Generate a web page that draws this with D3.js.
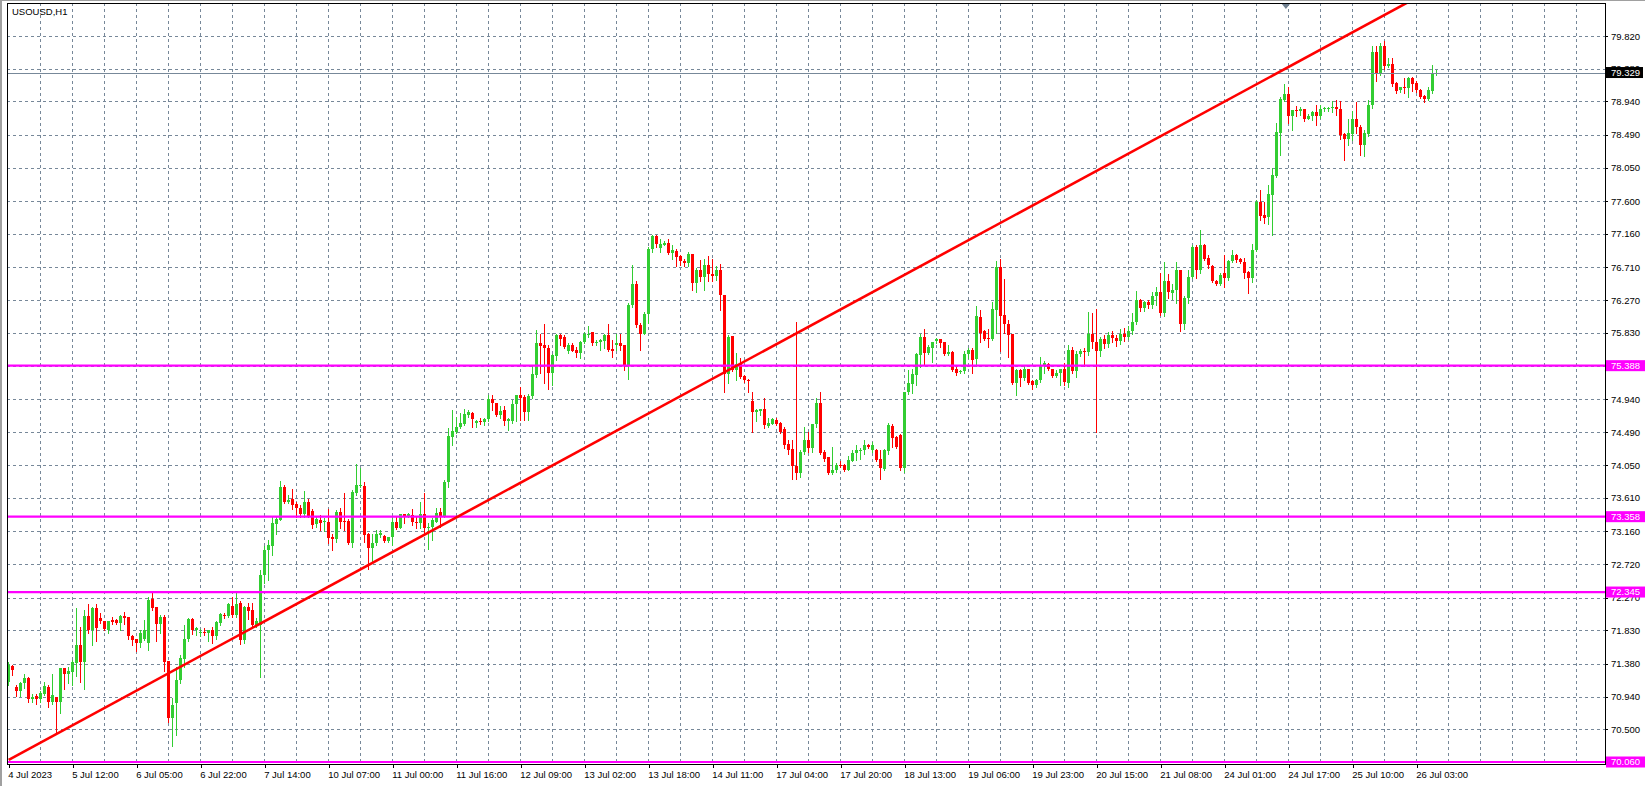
<!DOCTYPE html>
<html><head><meta charset="utf-8">
<script src="https://cdn.jsdelivr.net/npm/d3@7"></script>
<style>
html,body{margin:0;padding:0;background:#fff;}
svg{display:block;}
text{font-family:"Liberation Sans",Arial,sans-serif;font-size:9.5px;}
</style></head><body>
<svg id="chart" width="1645" height="786"></svg>
<script>
const symbolTitle = "USOUSD,H1";

const open = [
71.13,71.35,71.07,71.01,71.12,71.19,70.91,70.95,70.91,70.98,
71.07,70.86,70.93,70.86,71.32,71.24,71.27,71.39,71.63,71.41,
72.02,71.84,72.13,71.99,71.95,71.83,71.97,71.97,71.93,72.02,
72.01,71.76,71.72,71.66,71.72,71.66,72.25,72.14,71.91,72.01,
71.42,70.65,70.85,71.16,71.45,71.72,71.98,71.84,71.80,71.81,
71.79,71.83,71.75,71.93,72.03,72.02,72.16,72.04,72.20,71.70,
72.14,72.11,71.90,71.90,72.58,72.91,72.97,73.26,73.32,73.76,
73.56,73.60,73.53,73.48,73.39,73.56,73.44,73.26,73.31,73.29,
73.29,73.08,73.06,73.42,73.30,73.30,73.00,73.68,73.77,73.77,
73.13,72.94,73.00,73.11,73.10,73.03,73.08,73.28,73.20,73.39,
73.37,73.38,73.29,73.27,73.39,73.20,73.22,73.29,73.42,73.36,
73.82,74.43,74.50,74.56,74.61,74.73,74.75,74.62,74.64,74.63,
74.67,74.94,74.88,74.73,74.79,74.65,74.65,74.87,74.99,74.97,
74.77,74.98,75.26,75.69,75.66,75.63,75.29,75.52,75.80,75.78,
75.58,75.66,75.60,75.56,75.71,75.80,75.84,75.69,75.70,75.72,
75.80,75.61,75.66,75.69,75.66,75.39,76.21,76.48,75.93,75.82,
76.08,76.96,77.13,76.97,77.01,77.04,76.90,76.93,76.86,76.80,
76.77,76.89,76.50,76.68,76.58,76.74,76.62,76.60,76.68,76.34,
75.28,75.79,75.33,75.41,75.25,75.20,74.91,74.77,74.78,74.80,
74.58,74.61,74.66,74.62,74.53,74.34,74.27,74.04,73.94,74.23,
74.39,74.28,74.60,74.88,74.23,74.16,73.95,73.99,74.05,74.05,
73.99,74.11,74.21,74.24,74.25,74.32,74.25,74.25,74.14,74.00,
74.24,74.58,74.43,74.46,74.01,75.03,75.14,75.26,75.53,75.78,
75.56,75.62,75.72,75.74,75.70,75.55,75.57,75.35,75.30,75.31,
75.55,75.60,75.48,76.04,75.85,75.76,75.75,76.14,76.71,76.07,
75.95,75.82,75.15,75.33,75.22,75.34,75.18,75.13,75.19,75.38,
75.41,75.34,75.25,75.29,75.35,75.16,75.60,75.31,75.55,75.59,
75.57,75.82,75.70,75.58,75.74,75.68,75.80,75.76,75.72,75.82,
75.78,75.86,75.98,76.27,76.17,76.25,76.20,76.33,76.38,76.09,
76.52,76.37,76.40,76.67,75.95,76.30,76.58,76.98,76.68,77.01,
76.83,76.73,76.53,76.48,76.63,76.56,76.79,76.87,76.82,76.78,
76.65,76.56,76.94,77.59,77.41,77.39,77.68,77.94,78.51,78.96,
79.04,78.74,78.83,78.81,78.84,78.71,78.75,78.80,78.74,78.84,
78.85,78.85,78.86,78.84,78.50,78.44,78.50,78.71,78.60,78.35,
78.50,78.89,79.60,79.31,79.68,79.42,79.45,79.19,79.09,79.13,
79.12,79.26,79.19,79.10,79.02,78.97,79.08,79.32
];
const high = [
71.40,71.36,71.10,71.14,71.24,71.20,70.98,70.98,71.02,71.13,
71.09,71.24,70.93,71.32,71.33,71.34,71.43,72.13,71.88,72.10,
72.19,72.15,72.19,72.06,71.96,71.96,72.01,71.98,72.04,72.08,
72.01,71.77,71.72,71.83,71.97,72.28,72.34,72.14,72.04,72.04,
71.42,70.92,71.34,71.50,71.90,71.99,72.00,71.88,71.85,71.86,
71.84,71.88,71.95,72.06,72.06,72.20,72.28,72.35,72.22,72.16,
72.20,72.20,72.00,72.64,72.96,73.05,73.36,73.36,73.84,73.78,
73.65,73.73,73.56,73.51,73.70,73.60,73.46,73.36,73.38,73.34,
73.46,73.13,73.45,73.48,73.67,73.33,73.72,74.07,74.01,73.83,
73.14,73.13,73.18,73.18,73.11,73.09,73.36,73.37,73.40,73.40,
73.41,73.46,73.36,73.55,73.67,73.27,73.34,73.48,73.47,73.85,
74.55,74.79,74.70,74.75,74.81,74.79,74.77,74.66,74.68,74.68,
74.99,74.99,74.88,74.84,74.84,74.68,74.93,75.00,75.10,74.99,
75.01,75.40,75.87,75.81,75.95,75.67,75.55,75.81,75.81,75.80,
75.69,75.69,75.64,75.72,75.84,75.92,75.84,75.73,75.74,75.82,
75.95,75.73,75.82,75.82,75.67,76.23,76.74,76.53,75.96,76.11,
76.99,77.14,77.14,77.09,77.07,77.09,77.01,76.96,76.88,76.82,
76.91,76.89,76.70,76.81,76.82,76.86,76.82,76.73,76.76,76.34,
75.80,75.79,75.56,75.49,75.26,75.21,75.04,74.81,74.81,74.95,
74.69,74.68,74.68,74.63,74.56,74.39,74.39,75.97,74.25,74.56,
74.49,74.61,74.95,75.03,74.25,74.16,74.30,74.08,74.10,74.07,
74.17,74.25,74.32,74.28,74.39,74.33,74.36,74.27,74.26,74.27,
74.62,74.60,74.44,74.47,75.04,75.33,75.34,75.56,75.82,75.88,
75.67,75.71,75.76,75.74,75.71,75.66,75.58,75.37,75.33,75.58,
75.62,75.62,76.19,76.13,75.87,75.88,76.24,76.79,76.82,76.55,
76.00,75.82,75.34,75.34,75.38,75.35,75.20,75.21,75.51,75.45,
75.42,75.35,75.33,75.35,75.42,75.67,75.64,75.58,75.61,75.62,
76.11,76.10,76.15,75.78,75.80,75.84,75.86,75.80,75.88,75.90,
75.92,76.10,76.39,76.29,76.26,76.27,76.38,76.44,76.63,76.78,
76.62,76.48,76.78,76.68,76.32,76.67,77.01,77.01,77.21,77.03,
76.88,76.74,76.54,76.63,76.87,76.81,76.94,76.89,76.83,76.83,
76.66,77.03,77.61,77.75,77.59,77.82,78.04,78.65,79.00,79.17,
79.14,78.83,78.88,78.86,78.84,78.77,78.81,78.89,78.89,78.87,
78.87,78.94,78.96,78.94,78.51,78.70,78.81,78.93,78.62,78.56,
78.96,79.68,79.68,79.72,79.75,79.52,79.53,79.20,79.14,79.26,
79.27,79.27,79.21,79.11,79.03,79.14,79.43,79.36
];
const low = [
71.10,71.23,70.95,70.95,71.05,70.87,70.86,70.84,70.86,70.96,
70.80,70.84,70.43,70.72,71.04,71.12,71.09,71.21,71.14,71.04,
71.79,71.63,71.68,71.93,71.83,71.79,71.92,71.92,71.83,71.91,
71.71,71.63,71.55,71.61,71.70,71.57,72.11,71.68,71.79,71.28,
70.60,70.27,70.42,71.12,71.34,71.68,71.78,71.77,71.75,71.77,
71.68,71.66,71.72,71.90,72.00,72.01,72.01,72.01,71.65,71.66,
71.98,71.88,71.88,71.20,72.46,72.51,72.84,73.13,73.31,73.54,
73.54,73.46,73.36,73.36,73.36,73.35,73.20,73.22,73.18,73.16,
73.01,72.91,73.02,73.20,73.18,72.99,72.95,73.65,73.76,73.02,
72.66,72.73,72.98,73.09,73.02,73.02,72.98,73.19,73.20,73.27,
73.35,73.25,73.20,73.20,73.11,72.93,73.04,73.28,73.22,73.35,
73.76,74.32,74.48,74.55,74.59,74.70,74.56,74.57,74.61,74.59,
74.65,74.79,74.71,74.69,74.59,74.52,74.62,74.64,74.66,74.66,
74.66,74.95,75.24,75.29,75.16,75.08,75.13,75.47,75.67,75.63,
75.56,75.58,75.50,75.49,75.69,75.78,75.67,75.67,75.60,75.62,
75.59,75.51,75.60,75.60,75.33,75.21,76.18,75.91,75.60,75.81,
75.96,76.92,76.99,76.91,77.01,76.89,76.82,76.73,76.74,76.73,
76.73,76.40,76.38,76.53,76.40,76.53,76.52,76.54,76.13,75.04,
75.16,75.31,75.20,75.22,75.17,75.04,74.50,74.65,74.72,74.55,
74.56,74.60,74.59,74.48,74.28,74.20,73.87,73.86,73.89,74.20,
74.23,74.23,74.57,74.20,74.11,73.93,73.93,73.96,74.02,73.97,
73.98,74.10,74.12,74.13,74.20,74.28,74.23,74.11,73.87,73.99,
74.20,74.30,74.28,73.99,73.96,75.01,75.02,75.13,75.37,75.40,
75.55,75.44,75.69,75.64,75.53,75.53,75.32,75.26,75.29,75.29,
75.49,75.29,75.38,75.71,75.73,75.64,75.73,75.83,75.58,75.83,
75.51,75.14,74.99,75.12,75.20,75.14,75.08,75.10,75.17,75.29,
75.33,75.24,75.24,75.13,75.13,75.10,75.29,75.24,75.52,75.38,
75.53,75.62,74.50,75.52,75.62,75.64,75.70,75.65,75.68,75.72,
75.74,75.82,75.95,76.12,76.12,76.16,76.17,76.20,76.07,76.05,
76.30,76.28,76.23,75.85,75.88,76.23,76.56,76.56,76.63,76.81,
76.70,76.51,76.47,76.47,76.45,76.54,76.78,76.78,76.77,76.56,
76.36,76.51,76.93,77.35,77.31,77.29,77.15,77.93,78.22,78.95,
78.65,78.56,78.75,78.76,78.68,78.70,78.69,78.62,78.72,78.81,
78.81,78.80,78.76,78.44,78.15,78.35,78.42,78.51,78.22,78.21,
78.48,78.85,79.21,79.30,79.38,79.40,79.15,79.06,79.07,79.05,
79.00,79.08,79.07,78.99,78.93,78.96,79.06,79.30
];
const close = [
71.37,71.30,71.01,71.12,71.19,70.91,70.94,70.91,70.99,71.08,
70.86,70.96,70.86,71.32,71.24,71.28,71.40,71.63,71.41,72.02,
71.84,72.13,71.86,71.95,71.85,71.95,71.94,71.93,72.02,72.00,
71.75,71.70,71.66,71.80,71.83,72.24,72.13,71.91,72.01,71.41,
70.65,70.83,71.16,71.46,71.72,71.98,71.84,71.86,71.81,71.79,
71.83,71.75,71.94,72.05,72.02,72.18,72.04,72.19,71.70,72.14,
72.09,71.90,71.95,72.58,72.91,72.98,73.27,73.33,73.76,73.56,
73.58,73.52,73.48,73.39,73.56,73.36,73.25,73.33,73.27,73.30,
73.07,73.06,73.42,73.29,73.28,73.00,73.69,73.78,73.79,73.11,
72.94,73.01,73.12,73.14,73.03,73.08,73.28,73.20,73.39,73.37,
73.39,73.28,73.27,73.39,73.20,73.22,73.31,73.41,73.36,73.82,
74.44,74.51,74.57,74.62,74.74,74.76,74.67,74.64,74.63,74.67,
74.94,74.88,74.73,74.78,74.65,74.67,74.87,74.99,74.96,74.77,
74.98,75.27,75.69,75.65,75.63,75.29,75.53,75.80,75.74,75.64,
75.66,75.59,75.56,75.71,75.81,75.82,75.69,75.70,75.73,75.80,
75.60,75.59,75.69,75.65,75.39,76.21,76.48,75.93,75.82,76.08,
76.96,77.13,77.02,77.02,77.04,76.90,76.94,76.85,76.79,76.77,
76.89,76.50,76.68,76.58,76.74,76.62,76.60,76.68,76.34,75.28,
75.78,75.33,75.41,75.24,75.19,75.18,74.77,74.79,74.80,74.59,
74.62,74.67,74.60,74.50,74.32,74.25,74.04,73.94,74.23,74.39,
74.28,74.60,74.88,74.21,74.14,73.95,73.99,74.05,74.04,73.99,
74.12,74.21,74.26,74.26,74.32,74.29,74.32,74.12,74.01,74.25,
74.59,74.41,74.29,74.01,75.03,75.16,75.27,75.55,75.78,75.56,
75.64,75.70,75.74,75.69,75.55,75.57,75.33,75.29,75.32,75.55,
75.60,75.47,76.05,75.83,75.74,75.75,76.15,76.71,76.06,75.95,
75.80,75.15,75.33,75.22,75.34,75.16,75.13,75.20,75.38,75.42,
75.34,75.25,75.29,75.34,75.17,75.60,75.31,75.55,75.58,75.57,
75.82,75.70,75.58,75.74,75.68,75.80,75.76,75.72,75.82,75.78,
75.86,75.98,76.27,76.17,76.25,76.20,76.33,76.38,76.09,76.52,
76.38,76.40,76.67,75.95,76.30,76.58,76.98,76.68,77.01,76.82,
76.74,76.52,76.48,76.61,76.56,76.80,76.87,76.81,76.78,76.64,
76.56,76.94,77.59,77.40,77.38,77.69,77.95,78.53,78.97,79.04,
78.74,78.83,78.81,78.84,78.71,78.75,78.80,78.74,78.84,78.85,
78.85,78.86,78.84,78.49,78.44,78.51,78.71,78.60,78.35,78.51,
78.89,79.60,79.31,79.68,79.41,79.45,79.18,79.08,79.13,79.12,
79.26,79.18,79.09,79.00,78.97,79.09,79.32,79.329
];

const yTickValues = [79.82,79.38,78.94,78.49,78.05,77.60,77.16,76.71,76.27,75.83,75.38,
  74.94,74.49,74.05,73.61,73.16,72.72,72.27,71.83,71.38,70.94,70.50,70.06];
const xTickBars = [0,16,32,48,64,80,96,112,128,144,160,176,192,208,224,240,256,272,288,304,320,336,352];
const xTickLabels = ["4 Jul 2023","5 Jul 12:00","6 Jul 05:00","6 Jul 22:00","7 Jul 14:00",
  "10 Jul 07:00","11 Jul 00:00","11 Jul 16:00","12 Jul 09:00","13 Jul 02:00","13 Jul 18:00",
  "14 Jul 11:00","17 Jul 04:00","17 Jul 20:00","18 Jul 13:00","19 Jul 06:00","19 Jul 23:00",
  "20 Jul 15:00","21 Jul 08:00","24 Jul 01:00","24 Jul 17:00","25 Jul 10:00","26 Jul 03:00"];
const levelPrices = [75.388, 73.358, 72.345, 70.060];
const bidPrice = 79.329;
const trendBars = [0, 270];
const trendPrices = [70.09, 77.95];
const shiftMarkerBar = 319.3;

const svg = d3.select("#chart");
const plot = {left:7, right:1605, top:3, bottom:764};
const x = d3.scaleLinear().domain([0, 1]).range([8.7, 12.7]);
const y = d3.scaleLinear().domain([70.06, 79.82]).range([762, 36]);
const GRID = "#778899", BULL = "#32cd32", BEAR = "#ff0000", LEVEL = "#ff00ff";

svg.append("rect").attr("width",1645).attr("height",786).attr("fill","#fff");
// window edge
svg.append("rect").attr("x",0).attr("y",0).attr("width",2).attr("height",786).attr("fill","#a0a0a0");
svg.append("rect").attr("x",0).attr("y",0).attr("width",1645).attr("height",1).attr("fill","#a0a0a0");

svg.append("defs").append("clipPath").attr("id","clip")
  .append("rect").attr("x",plot.left+1).attr("y",plot.top+1)
  .attr("width",plot.right-plot.left-1).attr("height",plot.bottom-plot.top-1);

// grid
const grid = svg.append("g").attr("clip-path","url(#clip)")
  .attr("stroke",GRID).attr("stroke-dasharray","3,3").attr("shape-rendering","crispEdges");
const gridBars = d3.range(8, 400, 8).filter(b => x(b) < plot.right - 1);
grid.selectAll(".gv").data(gridBars).join("line")
  .attr("x1", b => Math.floor(x(b)) + 0.5).attr("x2", b => Math.floor(x(b)) + 0.5)
  .attr("y1", plot.top).attr("y2", plot.bottom);
grid.selectAll(".gh").data(yTickValues).join("line")
  .attr("x1", plot.left).attr("x2", plot.right)
  .attr("y1", v => Math.round(y(v)) + 0.5).attr("y2", v => Math.round(y(v)) + 0.5);

// candles
const bars = d3.range(close.length);
const cg = svg.append("g").attr("clip-path","url(#clip)").attr("shape-rendering","crispEdges");
const col = i => close[i] >= open[i] ? BULL : BEAR;
cg.selectAll(".wick").data(bars).join("rect")
  .attr("x", i => Math.floor(x(i)))
  .attr("y", i => Math.round(y(high[i])))
  .attr("width", 1)
  .attr("height", i => Math.max(1, Math.round(y(low[i])) - Math.round(y(high[i])) + 1))
  .attr("fill", col);
cg.selectAll(".body").data(bars).join("rect")
  .attr("x", i => Math.floor(x(i)) - 1)
  .attr("y", i => Math.round(y(Math.max(open[i], close[i]))))
  .attr("width", 3)
  .attr("height", i => Math.max(1, Math.round(y(Math.min(open[i], close[i]))) - Math.round(y(Math.max(open[i], close[i])))))
  .attr("fill", col);

// horizontal levels
const lv = svg.append("g").attr("clip-path","url(#clip)");
lv.selectAll("line").data(levelPrices).join("line")
  .attr("x1", plot.left).attr("x2", plot.right)
  .attr("y1", p => y(p)).attr("y2", p => y(p))
  .attr("stroke", LEVEL).attr("stroke-width", 2.2);
// bid line
lv.append("line").attr("x1", plot.left).attr("x2", plot.right)
  .attr("y1", Math.round(y(bidPrice)) + 0.5).attr("y2", Math.round(y(bidPrice)) + 0.5)
  .attr("stroke", GRID).attr("stroke-width", 1.2);

// trend line (ray)
const slope = (trendPrices[1] - trendPrices[0]) / (trendBars[1] - trendBars[0]);
const rayEnd = 420;
lv.append("line")
  .attr("x1", x(trendBars[0])).attr("y1", y(trendPrices[0]))
  .attr("x2", x(rayEnd)).attr("y2", y(trendPrices[0] + slope * (rayEnd - trendBars[0])))
  .attr("stroke", "#ff0000").attr("stroke-width", 2.6);

// frame
svg.append("rect").attr("x", plot.left + 0.5).attr("y", plot.top + 0.5)
  .attr("width", plot.right - plot.left).attr("height", plot.bottom - plot.top)
  .attr("fill","none").attr("stroke","#000").attr("stroke-width",1).attr("shape-rendering","crispEdges");

// shift marker
const mx = x(shiftMarkerBar);
svg.append("path").attr("d", `M${mx-4},${plot.top+1}L${mx+4},${plot.top+1}L${mx},${plot.top+6}Z`)
  .attr("fill", "#708090");

// title
svg.append("text").attr("x", 12).attr("y", 15).attr("fill","#000").text(symbolTitle);

// y axis
const yAxis = svg.append("g").attr("transform", `translate(${plot.right},0)`)
  .call(d3.axisRight(y).tickValues(yTickValues).tickFormat(d3.format(".3f")).tickSize(3).tickPadding(3));
yAxis.select(".domain").remove();
yAxis.selectAll("line").attr("stroke","#000").attr("shape-rendering","crispEdges");
yAxis.selectAll("text").attr("fill","#000").style("font-family",'"Liberation Sans",Arial,sans-serif').style("font-size","9.5px");

// x axis
const xAxis = svg.append("g").attr("transform", `translate(0,${plot.bottom})`)
  .call(d3.axisBottom(x).tickValues(xTickBars).tickFormat((d, i) => xTickLabels[i]).tickSize(4).tickPadding(3));
xAxis.select(".domain").remove();
xAxis.selectAll("line").attr("stroke","#000").attr("shape-rendering","crispEdges");
xAxis.selectAll("text").attr("fill","#000").attr("text-anchor","start").attr("x",-1)
  .style("font-family",'"Liberation Sans",Arial,sans-serif').style("font-size","9.5px");

// price labels for levels
const lab = svg.append("g");
levelPrices.forEach(p => {
  const cy = y(p);
  lab.append("rect").attr("x", plot.right + 1).attr("y", cy - 5.5).attr("width", 39).attr("height", 11).attr("fill", LEVEL);
  lab.append("text").attr("x", plot.right + 6).attr("y", cy).attr("dy","0.35em").attr("fill","#fff").text(d3.format(".3f")(p));
});
{
  const cy = y(bidPrice);
  lab.append("rect").attr("x", plot.right + 1).attr("y", cy - 5.5).attr("width", 37).attr("height", 11).attr("fill", "#000");
  lab.append("text").attr("x", plot.right + 6).attr("y", cy).attr("dy","0.35em").attr("fill","#fff").text(d3.format(".3f")(bidPrice));
}
</script>
</body></html>
